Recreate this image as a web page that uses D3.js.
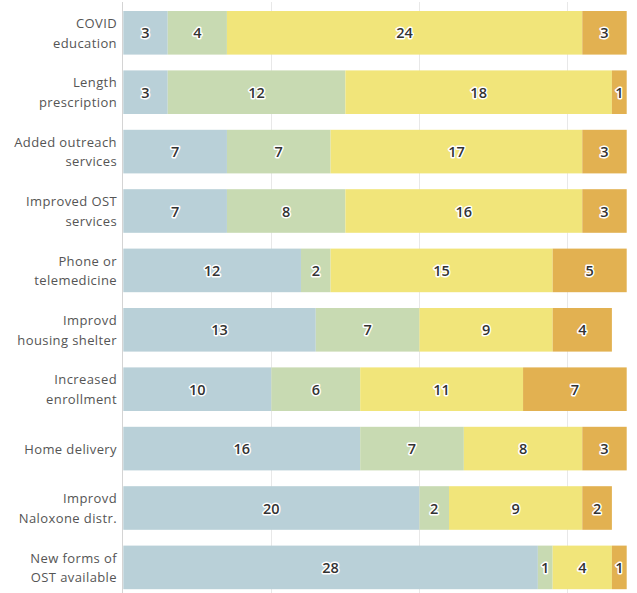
<!DOCTYPE html>
<html><head><meta charset="utf-8">
<script src="https://cdn.jsdelivr.net/npm/d3@7"></script>
<style>
html,body{margin:0;padding:0;background:#fff;}
svg{display:block;}
</style></head>
<body>
<svg id="chart" width="637" height="593"></svg>
<script>
const categories = [
  ["COVID","education"],
  ["Length","prescription"],
  ["Added outreach","services"],
  ["Improved OST","services"],
  ["Phone or","telemedicine"],
  ["Improvd","housing shelter"],
  ["Increased","enrollment"],
  ["Home delivery"],
  ["Improvd","Naloxone distr."],
  ["New forms of","OST available"]
];
const seriesA = [3, 3, 7, 7, 12, 13, 10, 16, 20, 28];
const seriesB = [4, 12, 7, 8, 2, 7, 6, 7, 2, 1];
const seriesC = [24, 18, 17, 16, 15, 9, 11, 8, 9, 4];
const seriesD = [3, 1, 3, 3, 5, 4, 7, 3, 2, 1];
const gridTicks = [10, 20, 30];

const colors = ["#b9d0d8", "#c8dab2", "#f1e57a", "#e2b151"];
const allSeries = [seriesA, seriesB, seriesC, seriesD];

const svg = d3.select("#chart");
const x = d3.scaleLinear().domain([0, 34]).range([123.3, 626.7]);
const keys = categories.map((c, i) => i);
const y = d3.scaleBand().domain(keys).range([3.1, 597.1]).paddingInner(0.266).paddingOuter(0.133);

// gridlines
svg.append("g").selectAll("line").data(gridTicks).join("line")
  .attr("x1", d => Math.round(x(d)) + 0.5).attr("x2", d => Math.round(x(d)) + 0.5)
  .attr("y1", 2).attr("y2", 593)
  .attr("stroke", "#e8e8e8").attr("stroke-width", 1);

// rows
const rows = keys.map(i => {
  let acc = 0;
  return allSeries.map((s, j) => {
    const r = {i, j, v: s[i], x0: acc, x1: acc + s[i]};
    acc += s[i];
    return r;
  });
}).flat();

svg.append("g").selectAll("rect").data(rows).join("rect")
  .attr("x", d => x(d.x0)).attr("width", d => x(d.x1) - x(d.x0))
  .attr("y", d => y(d.i)).attr("height", y.bandwidth())
  .attr("fill", d => colors[d.j]);

// axis line
svg.append("line")
  .attr("x1", Math.round(x(0)) - 0.5).attr("x2", Math.round(x(0)) - 0.5)
  .attr("y1", 2).attr("y2", 593).attr("stroke", "#d4d4d4");

// value labels
svg.append("g").selectAll("text").data(rows.filter(d => d.v > 0)).join("text")
  .attr("x", d => (x(d.x0) + x(d.x1)) / 2)
  .attr("y", d => y(d.i) + y.bandwidth() / 2)
  .attr("text-anchor", "middle").attr("dominant-baseline", "central")
  .attr("font-family", "'Open Sans', sans-serif").attr("font-size", 14.5).attr("font-weight", 600)
  .attr("fill", "#333").attr("stroke", "#fff").attr("stroke-width", 3)
  .attr("stroke-linejoin", "round").attr("paint-order", "stroke")
  .text(d => d.v);

// category labels
const lab = svg.append("g").selectAll("text").data(categories).join("text")
  .attr("text-anchor", "end")
  .attr("font-family", "'Open Sans', sans-serif").attr("font-size", 13)
  .attr("letter-spacing", 0.4)
  .attr("fill", "#555");
lab.each(function(lines, i) {
  const cy = y(i) + y.bandwidth() / 2;
  const n = lines.length;
  d3.select(this).selectAll("tspan").data(lines).join("tspan")
    .attr("x", 117)
    .attr("y", (d, k) => cy + (k - (n - 1) / 2) * 19.6)
    .attr("dominant-baseline", "central")
    .text(d => d);
});
</script>
</body></html>
